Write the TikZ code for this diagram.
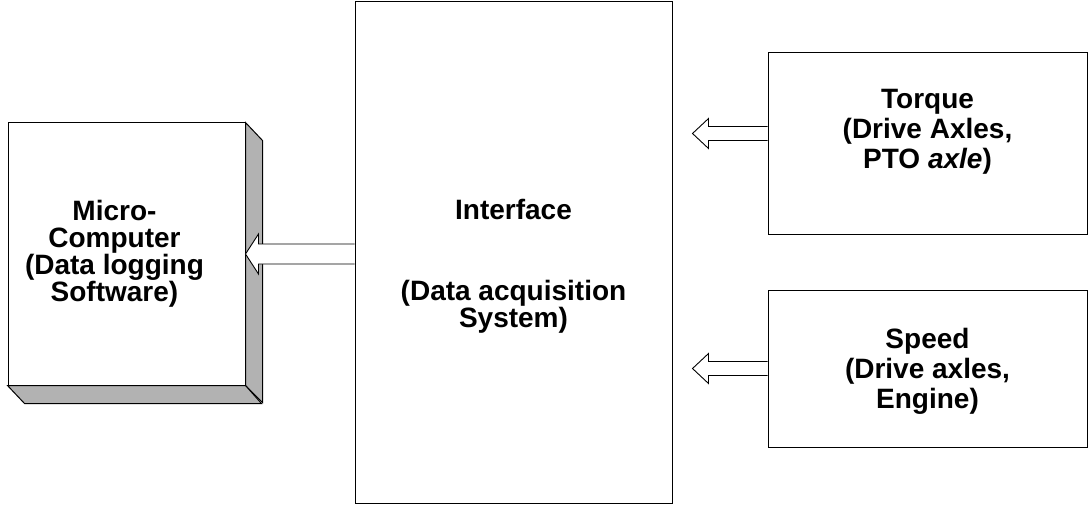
\documentclass[tikz,border=0pt]{standalone}
\usepackage{fontspec}
\setmainfont{Liberation Sans}
\usetikzlibrary{calc}

\tikzset{
  box/.style={draw=black, line width=1pt, inner sep=0pt},
  lbl/.style={inner sep=0pt, align=center, font=\bfseries\fontsize{28}{27}\selectfont},
  wide lbl/.style={lbl, font=\bfseries\fontsize{28}{30}\selectfont},
  shade/.style={draw=black, line width=1pt, fill=black!30},
  hollow/.style={draw=black, line width=0.9pt, fill=white},
}
% tail, tip, shaft half width, head half width, head length
\newcommand{\hollowarrow}[5]{%
  \draw[hollow] let \p1=(#1), \p2=(#2) in
    (\x1,\y1+#3) -- (\x2+#5,\y1+#3) -- (\x2+#5,\y1+#4) -- (\x2,\y1)
    -- (\x2+#5,\y1-#4) -- (\x2+#5,\y1-#3) -- (\x1,\y1-#3);}

\begin{document}
\begin{tikzpicture}[x=1pt, y=-1pt]
  \useasboundingbox (0,0) rectangle (1089,505);

  % data logger
  \node[box, minimum width=237pt, minimum height=262pt] (micro) at (126.5,254) {};
  \draw[shade] (micro.north east) -- ++(17,18) -- ++(0,262) -- (micro.south east) -- cycle;
  \draw[shade] (micro.south west) -- ++(17,18) -- ++(237,0) -- (micro.south east) -- cycle;
  \node[lbl] (micro text) at ([xshift=-12pt]micro.center)
    {Micro-\\Computer\\(Data logging\\Software)};

  % interface
  \node[box, minimum width=317pt, minimum height=501pt] (iface) at (513.5,252.5) {};
  \node[lbl] (iface text) at ([yshift=-13.5pt]iface.center)
    {Interface\\[54pt](Data acquisition\\System)};

  % sensors
  \node[box, minimum width=319pt, minimum height=181pt] (torque) at (927.5,143.5) {};
  \node[wide lbl] (torque text) at ([yshift=12pt]torque.center)
    {Torque\\(Drive Axles,\\PTO \textit{axle})};
  \node[box, minimum width=319pt, minimum height=157pt] (speed) at (927.5,368.5) {};
  \node[wide lbl] (speed text) at ([yshift=-3pt]speed.center)
    {Speed\\(Drive axles,\\Engine)};

  % signal flow
  \hollowarrow{iface.west |- micro.east}{micro.east}{10pt}{20pt}{13pt}
  \hollowarrow{[yshift=10pt]torque.west}{[xshift=20pt]iface.east}{7pt}{15pt}{16pt}
  \hollowarrow{speed.west}{[xshift=20pt]iface.east}{7pt}{15pt}{16pt}
\end{tikzpicture}
\end{document}
